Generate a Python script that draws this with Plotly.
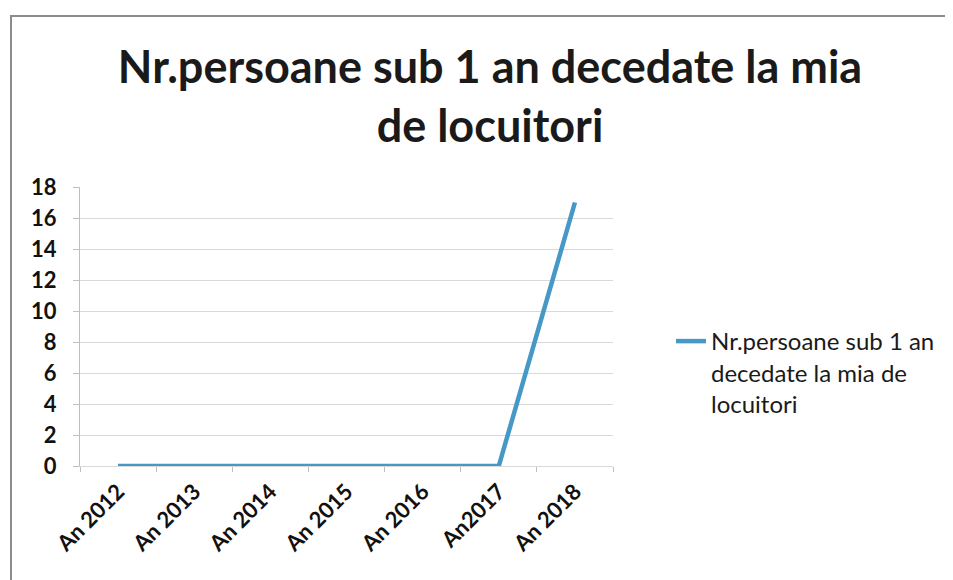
import plotly.graph_objects as go

categories = ["An 2012", "An 2013", "An 2014", "An 2015", "An 2016", "An2017", "An 2018"]
values = [0, 0, 0, 0, 0, 0, 17]
series_name = "Nr.persoane sub 1 an<br>decedate la mia de<br>locuitori"
title_text = "Nr.persoane sub 1 an decedate la mia<br>de locuitori"
y_ticks = [0, 2, 4, 6, 8, 10, 12, 14, 16, 18]

FONT = "Lato"
W, H = 945, 572          # page body has an 8px margin
L, R, T, B = 72, 340, 179, 114
PW = W - L - R
PH = H - T - B

def px_x(p):
    return (p - L) / PW

def px_y(p):
    return (H - B - p) / PH

fig = go.Figure()
fig.add_trace(go.Scatter(
    x=categories, y=values, mode="lines", name=series_name,
    line=dict(color="#4698c6", width=4.5), showlegend=True,
))

fig.update_layout(
    width=W, height=H,
    margin=dict(l=L, r=R, t=T, b=B, autoexpand=False),
    paper_bgcolor="white", plot_bgcolor="white",
    font=dict(family=FONT, color="#1a1a1a"),
    title=dict(
        text=title_text, x=482 / W, xanchor="center", y=1 - 75 / H, yanchor="top",
        font=dict(family=FONT, size=45, color="#1a1a1a", weight="bold"),
    ),
    xaxis=dict(
        type="category", range=[-0.5, 6.5], tickangle=-45, tickson="boundaries",
        ticks="outside", ticklen=5, tickcolor="#bfbfbf",
        showgrid=False, showline=True, linecolor="#d9d9d9", linewidth=1,
        tickfont=dict(family=FONT, size=22, color="#111111", weight="bold"),
        ticklabelstandoff=3,
        zeroline=False,
    ),
    yaxis=dict(
        range=[0, 18], tickvals=y_ticks, ticks="outside", ticklen=6,
        tickcolor="#bfbfbf", showline=True, linecolor="#bfbfbf", linewidth=1,
        showgrid=True, gridcolor="#d9d9d9", gridwidth=1, zeroline=False,
        tickfont=dict(family=FONT, size=22, color="#111111", weight="bold"),
        ticklabelstandoff=12,
    ),
    legend=dict(
        x=px_x(663), xanchor="left", y=px_y(311), yanchor="top", valign="top",
        font=dict(family=FONT, size=24, color="#1a1a1a"),
        bgcolor="rgba(0,0,0,0)", tracegroupgap=0,
    ),
    showlegend=True,
    shapes=[dict(
        type="rect", xref="paper", yref="paper",
        x0=px_x(3), x1=px_x(960), y0=px_y(600), y1=px_y(8),
        line=dict(color="#8c8c8c", width=2), fillcolor="rgba(0,0,0,0)", layer="below",
    )],
)

fig.write_html("out.html")
